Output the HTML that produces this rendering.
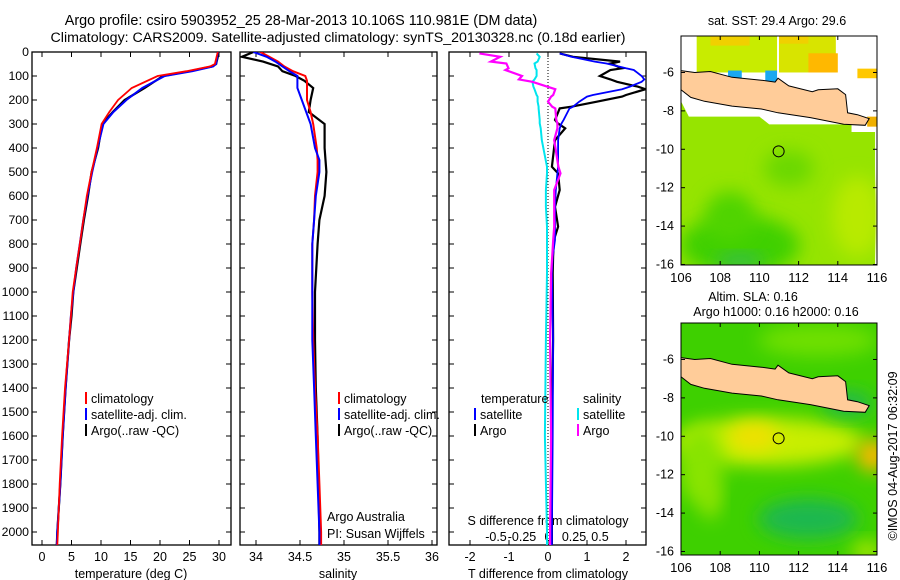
<!DOCTYPE html>
<html><head><meta charset="utf-8">
<style>
html,body{margin:0;padding:0;background:#fff;}
svg{display:block;font-family:"Liberation Sans",sans-serif;}
</style></head>
<body>
<svg id="fig" width="900" height="580" viewBox="0 0 900 580" xmlns="http://www.w3.org/2000/svg">
<defs>
<clipPath id="c1"><rect x="32" y="52" width="199" height="493"/></clipPath>
<clipPath id="c2"><rect x="240" y="52" width="197" height="493"/></clipPath>
<clipPath id="c3"><rect x="449" y="52" width="197" height="493"/></clipPath>
<clipPath id="m1"><rect x="681" y="36" width="196" height="229"/></clipPath>
<clipPath id="m2"><rect x="681" y="323" width="196" height="232"/></clipPath>
<filter id="blur" x="-50%" y="-50%" width="200%" height="200%"><feGaussianBlur stdDeviation="9"/></filter>
</defs>
<text x="301" y="25" font-size="14.4" text-anchor="middle">Argo profile: csiro 5903952_25 28-Mar-2013 10.106S 110.981E (DM data)</text>
<text x="338" y="42" font-size="14.2" text-anchor="middle">Climatology: CARS2009. Satellite-adjusted climatology: synTS_20130328.nc (0.18d earlier)</text>
<g id="plots"></g>
</svg>
<script>
// ---- data ----
const tDepth = [0,20,50,60,80,100,150,200,250,300,400,500,600,700,800,900,1000,1100,1200,1400,1600,1800,2000,2055];
const tempClim = [29.8,29.6,29.3,28.5,24.5,19.6,15.2,12.9,11.4,10.1,9.3,8.4,7.6,7.0,6.4,5.8,5.2,4.9,4.6,3.9,3.4,3.0,2.7,2.6];
const tempSat  = [29.8,29.7,29.5,29.0,25.5,20.8,17.0,14.3,12.1,10.4,9.4,8.5,7.7,7.0,6.4,5.8,5.3,4.9,4.6,4.0,3.5,3.1,2.6,2.5];
const tempArgo = [29.9,29.8,29.5,28.8,25.0,20.5,17.4,14.0,12.0,10.2,9.5,8.4,7.8,7.1,6.5,5.9,5.3,5.0,4.6,4.0,3.5,3.1,2.6,2.5];
const sDepth = [0,20,40,60,80,100,120,150,200,250,300,400,450,500,600,700,800,1000,1200,1400,1600,1800,2000,2055];
const salClim = [34.05,34.15,34.25,34.32,34.42,34.56,34.58,34.58,34.58,34.62,34.65,34.69,34.70,34.70,34.67,34.66,34.64,34.64,34.65,34.67,34.70,34.72,34.74,34.74];
const salSat  = [33.97,34.12,34.22,34.30,34.38,34.47,34.47,34.47,34.52,34.57,34.62,34.67,34.72,34.72,34.68,34.66,34.64,34.64,34.64,34.66,34.68,34.70,34.72,34.72];
const salArgo = [33.97,33.84,34.08,34.25,34.30,34.45,34.55,34.65,34.62,34.60,34.78,34.78,34.79,34.80,34.78,34.72,34.70,34.67,34.67,34.68,34.70,34.71,34.72,34.72];
const dDepth = [6,20,40,48,68,75,100,114,124,144,155,179,186,207,228,235,283,297,318,367,478,506,575,645,728,783,853,922,1200,1600,2000,2055];
const tDiffSat  = [0.30,0.60,1.20,1.50,2.00,2.20,2.40,2.47,2.40,2.10,1.90,1.15,1.00,0.80,0.64,0.55,0.40,0.35,0.30,0.26,0.26,0.24,0.20,0.18,0.18,0.18,0.12,0.10,0.13,0.12,0.10,0.10];
const tDiffArgo = [0.30,0.64,1.85,1.60,1.90,1.60,1.33,1.60,1.77,2.30,2.50,2.00,1.90,1.25,0.60,0.30,0.18,0.25,0.44,0.18,0.10,0.26,0.30,0.18,0.26,0.15,0.13,0.12,0.13,0.10,0.10,0.10];
const sDiffSat  = [-0.11,-0.08,-0.10,-0.13,-0.12,-0.11,-0.11,-0.13,-0.15,-0.14,-0.13,-0.11,-0.10,-0.10,-0.09,-0.09,-0.08,-0.08,-0.07,-0.06,-0.01,-0.01,-0.02,-0.02,-0.01,-0.01,-0.01,-0.01,-0.02,-0.03,-0.01,-0.01];
const sDiffArgo = [-0.66,-0.46,-0.55,-0.40,-0.38,-0.41,-0.25,-0.28,-0.15,-0.01,0.07,0.05,0.03,0.00,0.04,0.07,0.08,0.09,0.09,0.06,0.10,0.12,0.06,0.06,0.06,0.05,0.04,0.03,0.02,0.03,0.02,0.02];
const depthTicks = [0,100,200,300,400,500,600,700,800,900,1000,1100,1200,1300,1400,1500,1600,1700,1800,1900,2000];
const tempTicks = [0,5,10,15,20,25,30];
const salTicks = [34,34.5,35,35.5,36];
const tDiffTicks = [-2,-1,0,1,2];
const sDiffTicks = [-0.5,-0.25,0,0.25,0.5];
// ---- axes ----
const yD = d => 52 + 0.24*d;
const xT = t => 42 + 5.9*t;
const xS = s => 256 + 88*(s-34);
const xTD = v => 548 + 39*v;
const xSD = v => 548 + 104*v;
const NS='http://www.w3.org/2000/svg';
const root=document.getElementById('plots');
function mk(tag,attrs,parent){const e=document.createElementNS(NS,tag);for(const k in attrs)e.setAttribute(k,attrs[k]);(parent||root).appendChild(e);return e;}
function txt(x,y,s,size,anchor,parent){const e=mk('text',{x:x,y:y,'font-size':size||12.5,'text-anchor':anchor||'start'},parent);e.textContent=s;return e;}
function line(depths,vals,xf,color,w,clip,name){
  const pts=depths.map((d,i)=>xf(vals[i]).toFixed(1)+','+yD(d).toFixed(1)).join(' ');
  const e=mk('polyline',{points:pts,fill:'none',stroke:color,'stroke-width':w,'clip-path':'url(#'+clip+')'});
  
  
}
function panel(x0,w,name){
  const e=mk('rect',{x:x0,y:52,width:w,height:493,fill:'none',stroke:'#000','stroke-width':1.3});
  
  
  depthTicks.forEach(d=>{mk('line',{x1:x0,x2:x0+5,y1:yD(d),y2:yD(d),stroke:'#000'});mk('line',{x1:x0+w-5,x2:x0+w,y1:yD(d),y2:yD(d),stroke:'#000'});});
}
panel(32,199,'temperature-panel');
panel(240,197,'salinity-panel');
panel(449,197,'difference-panel');
depthTicks.forEach(d=>{const e=txt(29,yD(d)+4,String(d),12.3,'end');});
tempTicks.forEach(v=>{mk('line',{x1:xT(v),x2:xT(v),y1:545,y2:540,stroke:'#000'});mk('line',{x1:xT(v),x2:xT(v),y1:52,y2:57,stroke:'#000'});const e=txt(xT(v),561,String(v),12.5,'middle');});
salTicks.forEach(v=>{mk('line',{x1:xS(v),x2:xS(v),y1:545,y2:540,stroke:'#000'});mk('line',{x1:xS(v),x2:xS(v),y1:52,y2:57,stroke:'#000'});const e=txt(xS(v),561,String(v),12.5,'middle');});
tDiffTicks.forEach(v=>{mk('line',{x1:xTD(v),x2:xTD(v),y1:545,y2:540,stroke:'#000'});mk('line',{x1:xTD(v),x2:xTD(v),y1:52,y2:57,stroke:'#000'});const e=txt(xTD(v),561,String(v),12.5,'middle');});
sDiffTicks.forEach(v=>{const e=txt(xSD(v),541,String(v),12.5,'middle');});
let a;
a=txt(131,578,'temperature (deg C)',12.5,'middle');
a=txt(338,578,'salinity',12.5,'middle');
a=txt(548,578,'T difference from climatology',12.5,'middle');
a=txt(548,525,'S difference from climatology',12.5,'middle');
mk('line',{x1:548,x2:548,y1:52,y2:545,stroke:'#000','stroke-dasharray':'1,2'});
// series
line(tDepth,tempArgo,xT,'#000',2.2,'c1','temp-argo-line');
line(tDepth,tempSat,xT,'#0000ff',2,'c1','temp-satellite-line');
line(tDepth,tempClim,xT,'#ff0000',1.8,'c1','temp-climatology-line');
line(sDepth,salArgo,xS,'#000',2.2,'c2','sal-argo-line');
line(sDepth,salClim,xS,'#ff0000',2,'c2','sal-climatology-line');
line(sDepth,salSat,xS,'#0000ff',2,'c2','sal-satellite-line');
line(dDepth,tDiffArgo,xTD,'#000',2.2,'c3','tdiff-argo-line');
line(dDepth,tDiffSat,xTD,'#0000ff',1.8,'c3','tdiff-satellite-line');
line(dDepth,sDiffSat,xSD,'#00e5ee',2,'c3','sdiff-satellite-line');
line(dDepth,sDiffArgo,xSD,'#ff00ff',2.2,'c3','sdiff-argo-line');
// legends
function leg(x,y,color,label,name){const g=mk('g',{});mk('rect',{x:x,y:y-11,width:2,height:12,fill:color},g);txt(x+6,y,label,12.5,'start',g);}
leg(85,403,'#ff0000','climatology','legend-temp-climatology');
leg(85,419,'#0000ff','satellite-adj. clim.','legend-temp-satellite');
leg(85,435,'#000','Argo(..raw -QC)','legend-temp-argo');
leg(338,403,'#ff0000','climatology','legend-sal-climatology');
leg(338,419,'#0000ff','satellite-adj. clim.','legend-sal-satellite');
leg(338,435,'#000','Argo(..raw -QC)','legend-sal-argo');
a=txt(481,403,'temperature');
a=txt(583,403,'salinity');
leg(474,419,'#0000ff','satellite','legend-tdiff-satellite');
leg(474,435,'#000','Argo','legend-tdiff-argo');
leg(577,419,'#00e5ee','satellite','legend-sdiff-satellite');
leg(577,435,'#ff00ff','Argo','legend-sdiff-argo');
a=txt(327,521,'Argo Australia');
a=txt(327,538,'PI: Susan Wijffels');

// ---- maps ----
const lonTicks=[106,108,110,112,114,116];
const latTicks=[-6,-8,-10,-12,-14,-16];
const javaLon=[106,106.7,107.5,108.6,110.1,110.8,110.95,111.5,112.7,113.0,114.0,114.4,114.5,115.0,115.6,115.4,114.3,112.6,110.95,110.1,108.6,107.2,106.5,106];
const javaLat=[-5.9,-6.0,-5.95,-6.25,-6.4,-6.5,-6.3,-6.7,-7.0,-6.9,-6.85,-7.15,-8.1,-8.2,-8.4,-8.75,-8.7,-8.35,-8.1,-7.9,-7.75,-7.5,-7.3,-6.9];
const profLon=110.981, profLat=-10.106;
function drawMap(top,bottom,clip,kind,name){
  const X=lon=>681+19.6*(lon-106);
  const Y=lat=>top+19.2*(-4.1-lat);
  const g=mk('g',{'clip-path':'url(#'+clip+')'});
  
  
  if(kind==='sst'){
    mk('rect',{x:681,y:top,width:196,height:bottom-top,fill:'#fff'},g);
    mk('rect',{x:X(106.8),y:top,width:X(110.9)-X(106.8),height:Y(-6.0)-top,fill:'#c8ec00'},g);
    mk('rect',{x:X(111),y:top,width:X(113.9)-X(111),height:Y(-6.0)-top,fill:'#d8e400'},g);
    mk('rect',{x:X(107.5),y:top,width:X(109.5)-X(107.5),height:Y(-4.6)-top,fill:'#f0d000'},g);
    mk('rect',{x:X(111),y:top,width:X(112.5)-X(111),height:Y(-4.5)-top,fill:'#f0d000'},g);
    mk('rect',{x:X(112.5),y:Y(-5.0),width:X(114)-X(112.5),height:Y(-6.0)-Y(-5.0),fill:'#ffb800'},g);
    mk('rect',{x:X(115),y:Y(-5.8),width:X(116)-X(115),height:Y(-6.3)-Y(-5.8),fill:'#ffc800'},g);
    mk('rect',{x:X(108.4),y:Y(-5.9),width:X(109.1)-X(108.4),height:Y(-6.6)-Y(-5.9),fill:'#1aa8f0'},g);
    mk('rect',{x:X(110.3),y:Y(-5.9),width:X(110.9)-X(110.3),height:Y(-6.6)-Y(-5.9),fill:'#1aa8f0'},g);
    const sea=[[106,-7.5],[106.4,-8.3],[110,-8.3],[110.5,-8.7],[114.7,-8.7],[114.7,-9.1],[115.9,-9.1],[115.9,-16.2],[106,-16.2]];
    mk('polygon',{points:sea.map(p=>X(p[0])+','+Y(p[1])).join(' '),fill:'#96e400'},g);
    mk('ellipse',{cx:X(109),cy:Y(-15),rx:60,ry:30,fill:'#3fd000',filter:'url(#blur)'},g);
    mk('ellipse',{cx:X(108.5),cy:Y(-13.5),rx:25,ry:25,fill:'#4fd400',filter:'url(#blur)'},g);
    mk('ellipse',{cx:X(111.5),cy:Y(-11),rx:25,ry:18,fill:'#6ad800',filter:'url(#blur)'},g);
    mk('ellipse',{cx:X(115),cy:Y(-13.5),rx:25,ry:40,fill:'#b8ea00',filter:'url(#blur)'},g);
    mk('ellipse',{cx:X(109),cy:Y(-15.8),rx:25,ry:6,fill:'#30b860',filter:'url(#blur)'},g);
    mk('rect',{x:X(115.5),y:Y(-8.3),width:12,height:10,fill:'#f0b000'},g);
  } else {
    mk('rect',{x:681,y:top,width:196,height:bottom-top,fill:'#3ed000'},g);
    mk('ellipse',{cx:X(113),cy:Y(-5),rx:60,ry:16,fill:'#70e000',filter:'url(#blur)'},g);
    mk('ellipse',{cx:X(110.5),cy:Y(-10.3),rx:95,ry:24,fill:'#c8ee00',filter:'url(#blur)'},g);
    mk('ellipse',{cx:X(109.7),cy:Y(-10),rx:25,ry:14,fill:'#f0e000',filter:'url(#blur)'},g);
    mk('ellipse',{cx:X(115.8),cy:Y(-11),rx:16,ry:16,fill:'#ffb800',filter:'url(#blur)'},g);
    mk('ellipse',{cx:X(107),cy:Y(-11.5),rx:22,ry:40,fill:'#88e400',filter:'url(#blur)'},g);
    mk('ellipse',{cx:X(112.5),cy:Y(-14.3),rx:50,ry:20,fill:'#1cb850',filter:'url(#blur)'},g);
    mk('ellipse',{cx:X(114.5),cy:Y(-8.3),rx:25,ry:12,fill:'#20b850',filter:'url(#blur)'},g);
    mk('ellipse',{cx:X(107.5),cy:Y(-13.3),rx:10,ry:20,fill:'#90e400',filter:'url(#blur)'},g);
    mk('ellipse',{cx:X(115.5),cy:Y(-16),rx:15,ry:10,fill:'#b0e800',filter:'url(#blur)'},g);
  }
  const land=mk('polygon',{points:javaLon.map((l,i)=>X(l).toFixed(1)+','+Y(javaLat[i]).toFixed(1)).join(' '),fill:'#ffcc99',stroke:'#000','stroke-width':1},g);
  
  
  const c=mk('circle',{cx:X(profLon),cy:Y(profLat),r:5.5,fill:'none',stroke:'#000','stroke-width':1});
  
  
  mk('rect',{x:681,y:top,width:196,height:bottom-top,fill:'none',stroke:'#000','stroke-width':1});
  lonTicks.forEach(l=>{mk('line',{x1:X(l),x2:X(l),y1:bottom,y2:bottom-4,stroke:'#000'});mk('line',{x1:X(l),x2:X(l),y1:top,y2:top+4,stroke:'#000'});const e=txt(X(l),bottom+17,String(l),13,'middle');});
  latTicks.forEach(l=>{mk('line',{x1:681,x2:685,y1:Y(l),y2:Y(l),stroke:'#000'});mk('line',{x1:873,x2:877,y1:Y(l),y2:Y(l),stroke:'#000'});const e=txt(674,Y(l)+4,String(l),12.5,'end');});
}
drawMap(36,265,'m1','sst','sst-map');
drawMap(323,555,'m2','sla','sla-map');
a=txt(777,25,'sat. SST: 29.4 Argo: 29.6',12.5,'middle');
a=txt(753,301,'Altim. SLA: 0.16',12.5,'middle');
a=txt(776,316,'Argo h1000: 0.16 h2000: 0.16',12.5,'middle');
a=txt(0,0,'©IMOS 04-Aug-2017 06:32:09',12.5,'middle');a.setAttribute('transform','translate(897,456) rotate(-90)');
</script>
</body></html>
